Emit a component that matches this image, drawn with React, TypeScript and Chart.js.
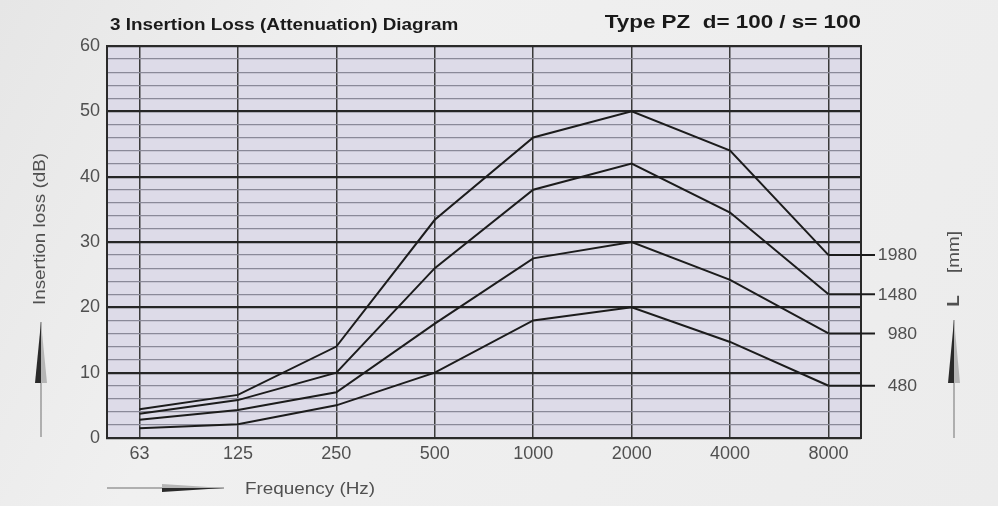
import React, { useEffect, useRef } from 'react';
import { Chart, registerables } from 'chart.js';

Chart.register(...registerables);

const frequencies = ['63', '125', '250', '500', '1000', '2000', '4000', '8000'];
const lengthLabels = ['1980', '1480', '980', '480'];
const loss1980 = [4.4, 6.6, 14, 33.4, 46, 50, 44, 28];
const loss1480 = [3.7, 5.8, 10, 26, 38, 42, 34.5, 22];
const loss980 = [2.8, 4.3, 7, 17.5, 27.5, 30, 24.2, 16];
const loss480 = [1.5, 2.1, 5, 10, 18, 20, 14.7, 8];
const seriesValues = [loss1980, loss1480, loss980, loss480];

const titleText = '3 Insertion Loss (Attenuation) Diagram';
const typeText = 'Type PZ  d= 100 / s= 100';
const yTitle = 'Insertion loss (dB)';
const xTitle = 'Frequency (Hz)';
const rightTitle = 'L';
const rightUnit = '[mm]';

const FONT = '"Liberation Sans", Arial, sans-serif';
const STRETCH = 1.18;

function textStretched(ctx: CanvasRenderingContext2D, text: string, x: number, y: number, sx: number, rotate = 0) {
  ctx.save();
  ctx.translate(x, y);
  if (rotate) ctx.rotate(rotate);
  ctx.scale(sx, 1);
  ctx.fillText(text, 0, 0);
  ctx.restore();
}

function drawArrowV(ctx: CanvasRenderingContext2D, x: number, yBottom: number, yTip: number, yBase: number, half: number) {
  ctx.save();
  ctx.strokeStyle = '#9a9a9a';
  ctx.lineWidth = 1.5;
  ctx.beginPath();
  ctx.moveTo(x, yBottom);
  ctx.lineTo(x, yTip);
  ctx.stroke();
  ctx.fillStyle = '#2a2a2a';
  ctx.beginPath();
  ctx.moveTo(x, yTip);
  ctx.lineTo(x - half, yBase);
  ctx.lineTo(x, yBase);
  ctx.closePath();
  ctx.fill();
  ctx.fillStyle = '#b5b5b5';
  ctx.beginPath();
  ctx.moveTo(x, yTip);
  ctx.lineTo(x + half, yBase);
  ctx.lineTo(x, yBase);
  ctx.closePath();
  ctx.fill();
  ctx.restore();
}

function drawArrowH(ctx: CanvasRenderingContext2D, y: number, xStart: number, xTip: number, xBase: number, half: number) {
  ctx.save();
  ctx.strokeStyle = '#9a9a9a';
  ctx.lineWidth = 1.5;
  ctx.beginPath();
  ctx.moveTo(xStart, y);
  ctx.lineTo(xTip, y);
  ctx.stroke();
  ctx.fillStyle = '#b5b5b5';
  ctx.beginPath();
  ctx.moveTo(xTip, y);
  ctx.lineTo(xBase, y - half);
  ctx.lineTo(xBase, y);
  ctx.closePath();
  ctx.fill();
  ctx.fillStyle = '#2a2a2a';
  ctx.beginPath();
  ctx.moveTo(xTip, y);
  ctx.lineTo(xBase, y + half);
  ctx.lineTo(xBase, y);
  ctx.closePath();
  ctx.fill();
  ctx.restore();
}

const decorPlugin = {
  id: 'decor',
  beforeDraw(chart: any) {
    const { ctx, chartArea: a, width, height } = chart;
    ctx.save();
    const g = ctx.createLinearGradient(0, 0, width, height);
    g.addColorStop(0, '#e6e6e6');
    g.addColorStop(0.3, '#f0f0f0');
    g.addColorStop(1, '#ececec');
    ctx.fillStyle = g;
    ctx.fillRect(0, 0, width, height);
    ctx.fillStyle = '#dddbe8';
    ctx.fillRect(a.left, a.top, a.right - a.left, a.bottom - a.top);
    ctx.restore();
  },
  afterDatasetsDraw(chart: any) {
    const { ctx, chartArea: a } = chart;
    const x = chart.scales.x;
    const y = chart.scales.y;
    ctx.save();
    ctx.strokeStyle = '#2a2a2a';
    ctx.lineWidth = 2;
    ctx.strokeRect(a.left, a.top, a.right - a.left, a.bottom - a.top);
    chart.data.datasets.forEach((ds: any, i: number) => {
      const last = ds.data[ds.data.length - 1];
      const px = x.getPixelForValue(last.x);
      const py = y.getPixelForValue(last.y);
      ctx.strokeStyle = '#1c1c1c';
      ctx.lineWidth = 2;
      ctx.beginPath();
      ctx.moveTo(px, py);
      ctx.lineTo(a.right + 14, py);
      ctx.stroke();
      ctx.fillStyle = '#505050';
      ctx.font = '16px ' + FONT;
      ctx.textAlign = 'right';
      ctx.textBaseline = 'middle';
      textStretched(ctx, lengthLabels[i], a.right + 56, py + 1, 1.1);
    });
    ctx.restore();
  },
  afterDraw(chart: any) {
    const { ctx, chartArea: a } = chart;
    ctx.save();
    ctx.fillStyle = '#1a1a1a';
    ctx.textBaseline = 'middle';
    ctx.textAlign = 'left';
    ctx.font = 'bold 16px ' + FONT;
    textStretched(ctx, titleText, a.left + 3, 26, STRETCH);
    ctx.font = 'bold 19px ' + FONT;
    ctx.textAlign = 'right';
    textStretched(ctx, typeText, a.right, 23, STRETCH);

    ctx.fillStyle = '#505050';
    ctx.font = '16px ' + FONT;
    ctx.textAlign = 'center';
    textStretched(ctx, yTitle, 41, 229, STRETCH, -Math.PI / 2);
    drawArrowV(ctx, 41, 437, 322, 383, 6);

    ctx.textAlign = 'left';
    textStretched(ctx, xTitle, 245, 490, STRETCH);
    drawArrowH(ctx, 488, 107, 224, 162, 4);

    ctx.textAlign = 'center';
    textStretched(ctx, rightUnit, 955, 252, STRETCH, -Math.PI / 2);
    ctx.font = 'bold 16px ' + FONT;
    textStretched(ctx, rightTitle, 955, 301, STRETCH, -Math.PI / 2);
    drawArrowV(ctx, 954, 438, 320, 383, 6);
    ctx.restore();
  },
};

export default function App() {
  const ref = useRef<HTMLCanvasElement | null>(null);
  useEffect(() => {
    if (!ref.current) return;
    const chart = new Chart(ref.current, {
      type: 'line',
      data: {
        datasets: seriesValues.map((vals, i) => ({
          label: lengthLabels[i],
          data: vals.map((v, j) => ({ x: j, y: v })),
          borderColor: '#1c1c1c',
          borderWidth: 2,
          pointRadius: 0,
          tension: 0,
          fill: false,
        })),
      },
      options: {
        animation: false,
        responsive: false,
        layout: { padding: { left: 0, top: 46, right: 137, bottom: 0 } },
        plugins: { legend: { display: false }, title: { display: false }, tooltip: { enabled: false } },
        scales: {
          x: {
            type: 'linear',
            min: -0.33,
            max: 7.33,
            afterBuildTicks: (s: any) => {
              s.ticks = frequencies.map((_, i) => ({ value: i }));
            },
            afterFit: (s: any) => {
              s.height = 68;
            },
            ticks: {
              autoSkip: false,
              maxRotation: 0,
              padding: 5,
              color: '#505050',
              font: { family: FONT, size: 18 },
              callback: (v: any) => frequencies[v] ?? '',
            },
            grid: { color: '#3a3a3a', lineWidth: 1.5, drawTicks: false },
            border: { display: true, color: '#2a2a2a', width: 2 },
          },
          y: {
            type: 'linear',
            min: 0,
            max: 60,
            afterFit: (s: any) => {
              s.width = 107;
            },
            ticks: {
              stepSize: 2,
              autoSkip: false,
              padding: 7,
              color: '#505050',
              font: { family: FONT, size: 18 },
              callback: (v: any) => (Number(v) % 10 === 0 ? String(v) : ''),
            },
            grid: {
              drawTicks: false,
              color: (c: any) => (c.tick && c.tick.value % 10 === 0 ? '#262626' : '#8a8998'),
              lineWidth: (c: any) => (c.tick && c.tick.value % 10 === 0 ? 2.2 : 1.2),
            },
            border: { display: true, color: '#2a2a2a', width: 2 },
          },
        },
      },
      plugins: [decorPlugin],
    });
    return () => chart.destroy();
  }, []);
  return (
    <div style={{ position: 'absolute', left: 0, top: 0, width: 998, height: 506 }}>
      <canvas ref={ref} width={998} height={506} />
    </div>
  );
}
